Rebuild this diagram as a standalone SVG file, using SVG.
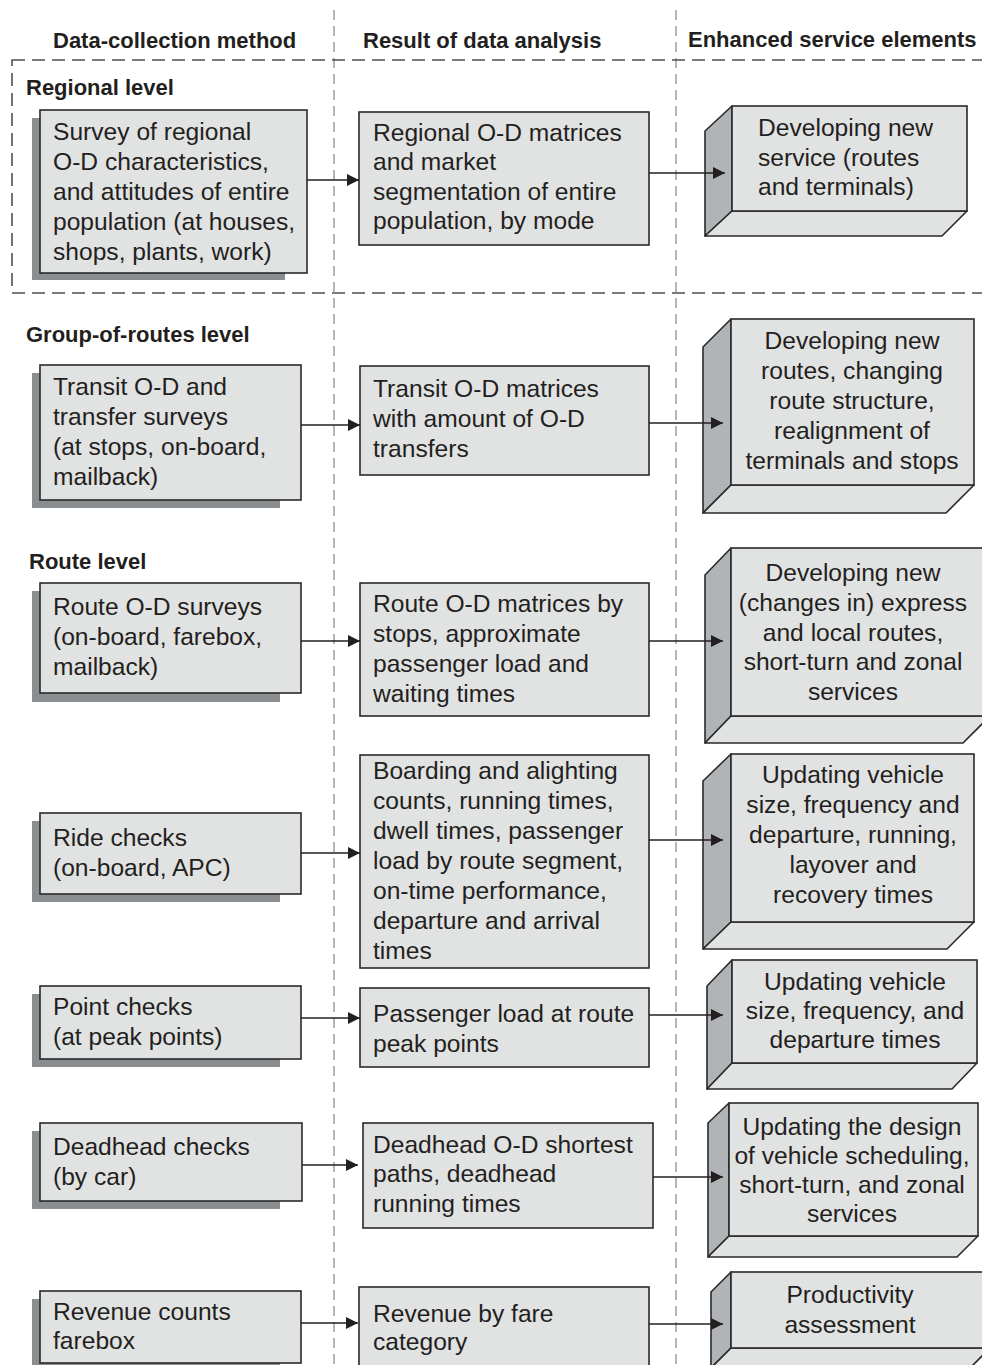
<svg xmlns="http://www.w3.org/2000/svg" width="982" height="1365" viewBox="0 0 982 1365">
<style>
text{font-family:"Liberation Sans",Arial,Helvetica,sans-serif;fill:#231f20}
.t{font-size:24.6px}
.h{font-size:22px;font-weight:bold}
.c{text-anchor:middle}
.box{fill:#e1e2e2;stroke:#2a2a2a;stroke-width:1.6}
.sh{fill:#8b8e90}
.side{fill:#b1b4b6;stroke:#2a2a2a;stroke-width:1.6;stroke-linejoin:round}
.bot{fill:#e1e2e2;stroke:#2a2a2a;stroke-width:1.6;stroke-linejoin:round}
.vl{stroke:#9c9c9c;stroke-width:1.5;stroke-dasharray:10 6;fill:none}
.reg{stroke:#505050;stroke-width:1.6;stroke-dasharray:13 7;fill:none}
.ar{stroke:#231f20;stroke-width:1.5;fill:none;marker-end:url(#ah)}
</style>
<defs>
<marker id="ah" markerUnits="userSpaceOnUse" markerWidth="12" markerHeight="12" refX="12" refY="6" orient="auto">
<path d="M0,0 L12,6 L0,12 z" fill="#231f20"/>
</marker>
</defs>
<rect width="982" height="1365" fill="#ffffff"/>

<g id="guides">
<line class="vl" x1="334" y1="10" x2="334" y2="1365"/>
<line class="vl" x1="676" y1="10" x2="676" y2="1365"/>
<rect class="reg" x="12" y="60" width="990" height="233"/>
</g>

<g id="headers">
<text class="h" x="53" y="48">Data-collection method</text>
<text class="h" x="363" y="48">Result of data analysis</text>
<text class="h" x="688" y="47">Enhanced service elements</text>
<text class="h" x="26" y="95">Regional level</text>
<text class="h" x="26" y="342">Group-of-routes level</text>
<text class="h" x="29" y="569">Route level</text>
</g>

<!-- Left column -->
<g id="survey-regional">
<rect class="sh" x="32" y="118" width="253" height="162"/>
<rect class="box" x="40" y="110" width="267" height="163"/>
<text class="t"><tspan x="53" y="140">Survey of regional</tspan><tspan x="53" y="170">O-D characteristics,</tspan><tspan x="53" y="200">and attitudes of entire</tspan><tspan x="53" y="230">population (at houses,</tspan><tspan x="53" y="260">shops, plants, work)</tspan></text>
</g>
<g id="transit-od-surveys">
<rect class="sh" x="32" y="373" width="248" height="135"/>
<rect class="box" x="40" y="365" width="261" height="135"/>
<text class="t"><tspan x="53" y="395">Transit O-D and</tspan><tspan x="53" y="425">transfer surveys</tspan><tspan x="53" y="455">(at stops, on-board,</tspan><tspan x="53" y="485">mailback)</tspan></text>
</g>
<g id="route-od-surveys">
<rect class="sh" x="32" y="591" width="248" height="111"/>
<rect class="box" x="40" y="583" width="261" height="110"/>
<text class="t"><tspan x="53" y="615">Route O-D surveys</tspan><tspan x="53" y="645">(on-board, farebox,</tspan><tspan x="53" y="675">mailback)</tspan></text>
</g>
<g id="ride-checks">
<rect class="sh" x="32" y="821" width="248" height="81"/>
<rect class="box" x="40" y="813" width="261" height="81"/>
<text class="t"><tspan x="53" y="846">Ride checks</tspan><tspan x="53" y="876">(on-board, APC)</tspan></text>
</g>
<g id="point-checks">
<rect class="sh" x="32" y="994" width="248" height="73"/>
<rect class="box" x="40" y="986" width="261" height="73"/>
<text class="t"><tspan x="53" y="1015">Point checks</tspan><tspan x="53" y="1045">(at peak points)</tspan></text>
</g>
<g id="deadhead-checks">
<rect class="sh" x="32" y="1131" width="248" height="78"/>
<rect class="box" x="40" y="1123" width="262" height="78"/>
<text class="t"><tspan x="53" y="1155">Deadhead checks</tspan><tspan x="53" y="1185">(by car)</tspan></text>
</g>
<g id="revenue-counts">
<rect class="sh" x="32" y="1299" width="248" height="72"/>
<rect class="box" x="40" y="1291" width="261" height="72"/>
<text class="t"><tspan x="53" y="1320">Revenue counts</tspan><tspan x="53" y="1349">farebox</tspan></text>
</g>

<!-- Middle column -->
<g id="regional-od-matrices">
<rect class="box" x="359" y="112" width="290" height="133"/>
<text class="t"><tspan x="373" y="141">Regional O-D matrices</tspan><tspan x="373" y="170">and market</tspan><tspan x="373" y="200">segmentation of entire</tspan><tspan x="373" y="229">population, by mode</tspan></text>
</g>
<g id="transit-od-matrices">
<rect class="box" x="360" y="366" width="289" height="109"/>
<text class="t"><tspan x="373" y="397">Transit O-D matrices</tspan><tspan x="373" y="427">with amount of O-D</tspan><tspan x="373" y="457">transfers</tspan></text>
</g>
<g id="route-od-matrices">
<rect class="box" x="360" y="583" width="289" height="133"/>
<text class="t"><tspan x="373" y="612">Route O-D matrices by</tspan><tspan x="373" y="642">stops, approximate</tspan><tspan x="373" y="672">passenger load and</tspan><tspan x="373" y="702">waiting times</tspan></text>
</g>
<g id="boarding-counts">
<rect class="box" x="360" y="755" width="289" height="213"/>
<text class="t"><tspan x="373" y="779">Boarding and alighting</tspan><tspan x="373" y="809">counts, running times,</tspan><tspan x="373" y="839">dwell times, passenger</tspan><tspan x="373" y="869">load by route segment,</tspan><tspan x="373" y="899">on-time performance,</tspan><tspan x="373" y="929">departure and arrival</tspan><tspan x="373" y="959">times</tspan></text>
</g>
<g id="passenger-load">
<rect class="box" x="360" y="988" width="289" height="79"/>
<text class="t"><tspan x="373" y="1022">Passenger load at route</tspan><tspan x="373" y="1052">peak points</tspan></text>
</g>
<g id="deadhead-od">
<rect class="box" x="363" y="1123" width="290" height="105"/>
<text class="t"><tspan x="373" y="1153">Deadhead O-D shortest</tspan><tspan x="373" y="1182">paths, deadhead</tspan><tspan x="373" y="1212">running times</tspan></text>
</g>
<g id="revenue-by-fare">
<rect class="box" x="359" y="1287" width="290" height="90"/>
<text class="t"><tspan x="373" y="1322">Revenue by fare</tspan><tspan x="373" y="1350">category</tspan></text>
</g>

<!-- Right column (3D boxes) -->
<g id="new-service">
<polygon class="side" points="705,131 732,106 732,211 705,236"/>
<polygon class="bot" points="705,236 732,211 967,211 942,236"/>
<rect class="box" x="732" y="106" width="235" height="105"/>
<text class="t"><tspan x="758" y="136">Developing new</tspan><tspan x="758" y="165.5">service (routes</tspan><tspan x="758" y="195">and terminals)</tspan></text>
</g>
<g id="new-routes">
<polygon class="side" points="703,347 731,319 731,485 703,513"/>
<polygon class="bot" points="703,513 731,485 974,485 946,513"/>
<rect class="box" x="731" y="319" width="243" height="166"/>
<text class="t c"><tspan x="852" y="349">Developing new</tspan><tspan x="852" y="379">routes, changing</tspan><tspan x="852" y="409">route structure,</tspan><tspan x="852" y="439">realignment of</tspan><tspan x="852" y="469">terminals and stops</tspan></text>
</g>
<g id="express-local">
<polygon class="side" points="705,575 731,548 731,716 705,743"/>
<polygon class="bot" points="705,743 731,716 990,716 963,743"/>
<rect class="box" x="731" y="548" width="259" height="168"/>
<text class="t c"><tspan x="853" y="581">Developing new</tspan><tspan x="853" y="611">(changes in) express</tspan><tspan x="853" y="641">and local routes,</tspan><tspan x="853" y="670">short-turn and zonal</tspan><tspan x="853" y="700">services</tspan></text>
</g>
<g id="update-vehicle-running">
<polygon class="side" points="703,781 731,754 731,922 703,949"/>
<polygon class="bot" points="703,949 731,922 974,922 947,949"/>
<rect class="box" x="731" y="754" width="243" height="168"/>
<text class="t c"><tspan x="853" y="783">Updating vehicle</tspan><tspan x="853" y="813">size, frequency and</tspan><tspan x="853" y="843">departure, running,</tspan><tspan x="853" y="873">layover and</tspan><tspan x="853" y="903">recovery times</tspan></text>
</g>
<g id="update-vehicle-departure">
<polygon class="side" points="707,986 732,960 732,1063 707,1089"/>
<polygon class="bot" points="707,1089 732,1063 977,1063 952,1089"/>
<rect class="box" x="732" y="960" width="245" height="103"/>
<text class="t c"><tspan x="855" y="990">Updating vehicle</tspan><tspan x="855" y="1019">size, frequency, and</tspan><tspan x="855" y="1048">departure times</tspan></text>
</g>
<g id="update-scheduling">
<polygon class="side" points="708,1123 729,1103 729,1236 708,1257"/>
<polygon class="bot" points="708,1257 729,1236 978,1236 957,1257"/>
<rect class="box" x="729" y="1103" width="249" height="133"/>
<text class="t c"><tspan x="852" y="1135">Updating the design</tspan><tspan x="852" y="1164">of vehicle scheduling,</tspan><tspan x="852" y="1193">short-turn, and zonal</tspan><tspan x="852" y="1222">services</tspan></text>
</g>
<g id="productivity">
<polygon class="side" points="711,1292 731,1272 731,1348 711,1368"/>
<polygon class="bot" points="711,1368 731,1348 990,1348 970,1368"/>
<rect class="box" x="731" y="1272" width="259" height="76"/>
<text class="t c"><tspan x="850" y="1303">Productivity</tspan><tspan x="850" y="1333">assessment</tspan></text>
</g>

<g id="connectors">
<line class="ar" x1="307" y1="180" x2="359" y2="180"/>
<line class="ar" x1="301" y1="425" x2="360" y2="425"/>
<line class="ar" x1="301" y1="641" x2="360" y2="641"/>
<line class="ar" x1="301" y1="853" x2="360" y2="853"/>
<line class="ar" x1="301" y1="1018" x2="360" y2="1018"/>
<line class="ar" x1="302" y1="1165" x2="358" y2="1165"/>
<line class="ar" x1="301" y1="1323" x2="358" y2="1323"/>
<line class="ar" x1="649" y1="173" x2="725" y2="173"/>
<line class="ar" x1="649" y1="423" x2="723" y2="423"/>
<line class="ar" x1="649" y1="641" x2="723" y2="641"/>
<line class="ar" x1="649" y1="840" x2="723" y2="840"/>
<line class="ar" x1="649" y1="1015" x2="723" y2="1015"/>
<line class="ar" x1="653" y1="1177" x2="723" y2="1177"/>
<line class="ar" x1="649" y1="1324" x2="723" y2="1324"/>
</g>
</svg>
